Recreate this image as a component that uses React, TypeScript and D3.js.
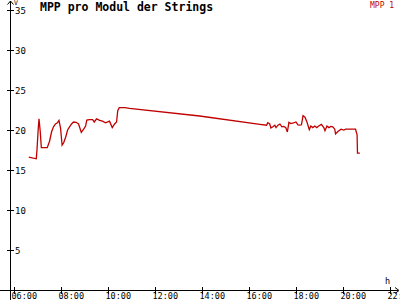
import React from "react";
import * as d3 from "d3";

const times: string[] = [
  "06:38","06:57","06:59","07:02","07:04","07:07","07:10","07:25","07:31","07:36",
  "07:41","07:46","07:51","07:55","07:59","08:03","08:07","08:12","08:17","08:22",
  "08:27","08:32","08:39","08:45","08:52","08:58","09:03","09:06","09:13","09:21",
  "09:25","09:31","09:39","09:46","09:54","10:04","10:11","10:17","10:22","10:25",
  "10:29","10:43","10:55","13:54","16:28","16:45","16:48","16:53","16:56","17:01",
  "17:06","17:09","17:14","17:19","17:24","17:29","17:34","17:38","17:42","17:47",
  "17:54","18:00","18:05","18:10","18:14","18:18","18:23","18:28","18:34","18:38",
  "18:43","18:48","18:53","18:58","19:05","19:11","19:14","19:19","19:24","19:29",
  "19:34","19:39","19:41","19:47","19:55","20:02","20:07","20:32","20:36","20:37","20:43"
];
const mpp1: number[] = [
  16.6,16.4,17.6,20.1,21.4,19.9,17.8,17.8,18.6,19.75,
  20.4,20.75,20.9,21.2,20.25,18.1,18.4,19.1,20.0,20.4,
  20.75,21.0,20.96,20.75,19.7,20.1,20.5,21.25,21.3,21.3,
  21.0,21.4,21.2,21.1,20.9,21.1,20.3,20.75,21.0,22.4,
  22.8,22.8,22.7,21.75,20.7,20.6,20.9,20.75,20.25,20.4,
  20.6,20.3,20.6,20.75,20.4,20.45,20.3,19.75,20.96,20.8,
  20.9,21.0,20.65,20.6,20.65,21.8,21.6,21.0,20.05,20.5,
  20.3,20.5,20.3,20.5,20.7,20.3,19.9,20.5,20.3,20.45,
  20.4,20.1,19.5,19.8,20.1,20.0,20.1,20.1,19.4,17.1,17.1
];
const yTicks: number[] = [5, 10, 15, 20, 25, 30, 35];
const xTickLabels: string[] = ["06:00","08:00","10:00","12:00","14:00","16:00","18:00","20:00","22:00"];
const title = "MPP pro Modul der Strings";
const legendLabel = "MPP 1";
const yUnit = "V";
const xUnit = "h";

const toMin = (s: string) => {
  const [h, m] = s.split(":").map(Number);
  return h * 60 + m;
};

export default function App() {
  const W = 400, H = 300;
  const x = d3.scaleLinear().domain([350, 1320]).range([10, 390]);
  const y = d3.scaleLinear().domain([0, 35]).range([290, 10]);
  const red = "#c00000";
  const data = times.map((t, i) => ({ t: toMin(t), v: mpp1[i] }));
  const line = d3.line<{ t: number; v: number }>().x(d => x(d.t)).y(d => y(d.v));
  const font = "'DejaVu Sans Mono', 'Liberation Mono', monospace";
  return (
    <svg width={W} height={H} style={{ position: "absolute", left: 0, top: 0, background: "#fff" }}>
      <rect x={0} y={0} width={W} height={H} fill="#fff" />
      {/* axes */}
      <g shapeRendering="crispEdges" stroke="#000">
        <line x1={10.5} y1={1} x2={10.5} y2={300} />
        <line x1={0} y1={290.5} x2={398} y2={290.5} />
        {yTicks.map(v => (
          <line key={v} x1={7} x2={14} y1={Math.round(y(v)) + 0.5} y2={Math.round(y(v)) + 0.5} />
        ))}
        {xTickLabels.map(l => {
          const xx = Math.round(x(toMin(l))) + 0.5;
          return <line key={l} x1={xx} x2={xx} y1={287} y2={294} />;
        })}
      </g>
      {/* arrows */}
      <path d="M7.5,4.5 L10.5,1 L13.5,4.5" fill="none" stroke="#000" />
      <path d="M395,287.5 L399,290.5 L395,293.5" fill="none" stroke="#000" />
      <text x={14} y={5} fontFamily={font} fontSize={6.5} fill="#000">{yUnit}</text>
      <text x={385} y={284} fontFamily={font} fontSize={8.5} fill="#000">{xUnit}</text>
      {/* y tick labels */}
      {yTicks.map(v => (
        <text key={v} x={15} y={y(v) + 3.5} fontFamily={font} fontSize={9} fill="#000">{v}</text>
      ))}
      {/* x tick labels */}
      {xTickLabels.map(l => (
        <text key={l} x={x(toMin(l)) - 2.5} y={299} fontFamily={font} fontSize={8.5} fill="#000">{l}</text>
      ))}
      {/* title & legend */}
      <text x={40} y={11} fontFamily={font} fontSize={11.5} fontWeight="bold" fill="#000">{title}</text>
      <text x={370} y={8} fontFamily={font} fontSize={8} fill={red}>{legendLabel}</text>
      {/* data */}
      <path d={line(data) || ""} fill="none" stroke={red} strokeWidth={1.3} strokeLinejoin="miter" />
    </svg>
  );
}
